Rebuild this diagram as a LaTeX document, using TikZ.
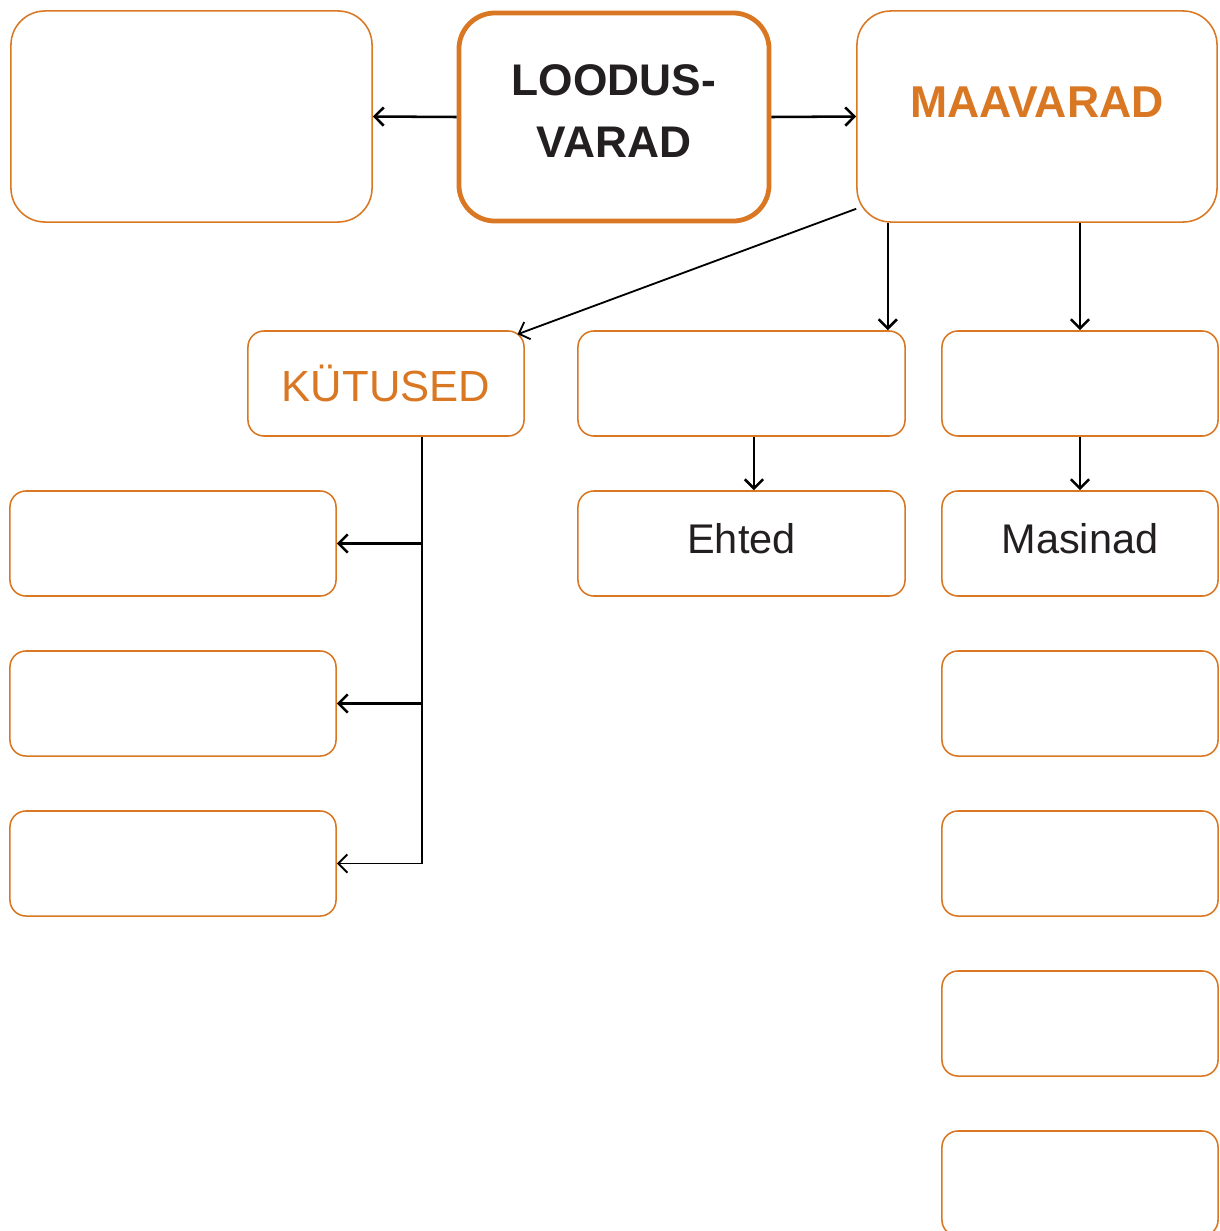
\documentclass[tikz,border=0pt]{standalone}
\usepackage{fontspec}
\setmainfont{Liberation Sans}
\usepackage{xcolor}
\usetikzlibrary{arrows.meta}
\definecolor{oranz}{RGB}{217,119,34}
\definecolor{tekst}{RGB}{35,31,32}
\tikzset{
  >={Straight Barb[length=6.5pt,width=13pt]},
  kast/.style={draw=oranz,line width=1.1pt,rounded corners=0.4cm,fill=white,
    minimum width=6.9cm,minimum height=2.625cm,inner sep=0pt},
  suurkast/.style={kast,rounded corners=0.85cm,minimum width=9cm,minimum height=5.275cm},
  nool/.style={->,line width=1.8pt},
}
\begin{document}
\begin{tikzpicture}[x=0.025cm,y=-0.025cm]
\useasboundingbox (0,0) rectangle (1219,1231);
% ylemine rida
\node[suurkast,minimum width=9.025cm] (tuhi) at (191.5,116.5) {};
\node[suurkast,line width=3.4pt,rounded corners=0.9cm,minimum width=7.75cm,minimum height=5.2cm,
  align=center,text depth=8.5pt,font=\fontsize{31.5}{44}\selectfont\bfseries,text=tekst] (loodus) at (614,117) {LOODUS-\\VARAD};
\node[suurkast,text depth=20pt,font=\fontsize{31.7}{38}\selectfont\bfseries,text=oranz] (maavarad) at (1037,116.5) {MAAVARAD};

\draw [nool] (loodus.west) -- (tuhi.east);
\draw [nool] (loodus.east) -- (maavarad.west);

% teine rida
\node[kast,font=\fontsize{31}{38}\selectfont,text=oranz] (kytused) at (386,383.5) {KÜTUSED};
\node[kast,minimum width=8.175cm] (keskmine) at (741.5,383.5) {};
\node[kast] (parem) at (1080,383.5) {};

\draw [nool,line width=1.3pt] ([yshift=0.35cm]maavarad.south west) -- ([xshift=-0.18cm,yshift=-0.1cm]kytused.north east);
\draw [nool] ([xshift=-0.45cm]keskmine.north east |- maavarad.south) -- ([xshift=-0.45cm]keskmine.north east);
\draw [nool] (maavarad.south -| parem.north) -- (parem.north);

% kolmas rida
\node[kast,minimum width=8.175cm,text depth=7pt,font=\fontsize{29.5}{36}\selectfont,text=tekst] (ehted) at (741.5,543.5) {Ehted};
\node[kast,text depth=7pt,font=\fontsize{29.5}{36}\selectfont,text=tekst] (masinad) at (1080,543.5) {Masinad};

\draw [nool] ([xshift=0.31cm]keskmine.south) -- ([xshift=0.31cm]ehted.north);
\draw [nool] (parem.south) -- (masinad.north);

% vasak tulp
\node[kast,minimum width=8.15cm] (vasak1) at (173,543.5) {};
\node[kast,minimum width=8.15cm] (vasak2) at (173,703.5) {};
\node[kast,minimum width=8.15cm] (vasak3) at (173,863.5) {};

\coordinate (tyvi) at ([xshift=0.9cm]kytused.south);
\draw [nool,line width=1.4pt] (tyvi) |- (vasak3.east);
\draw [nool] (vasak1.east -| tyvi) -- (vasak1.east);
\draw [nool] (vasak2.east -| tyvi) -- (vasak2.east);

% parem tulp
\node[kast] (parem2) at (1080,703.5) {};
\node[kast] (parem3) at (1080,863.5) {};
\node[kast] (parem4) at (1080,1023.5) {};
\node[kast] (parem5) at (1080,1183.5) {};
\end{tikzpicture}
\end{document}
